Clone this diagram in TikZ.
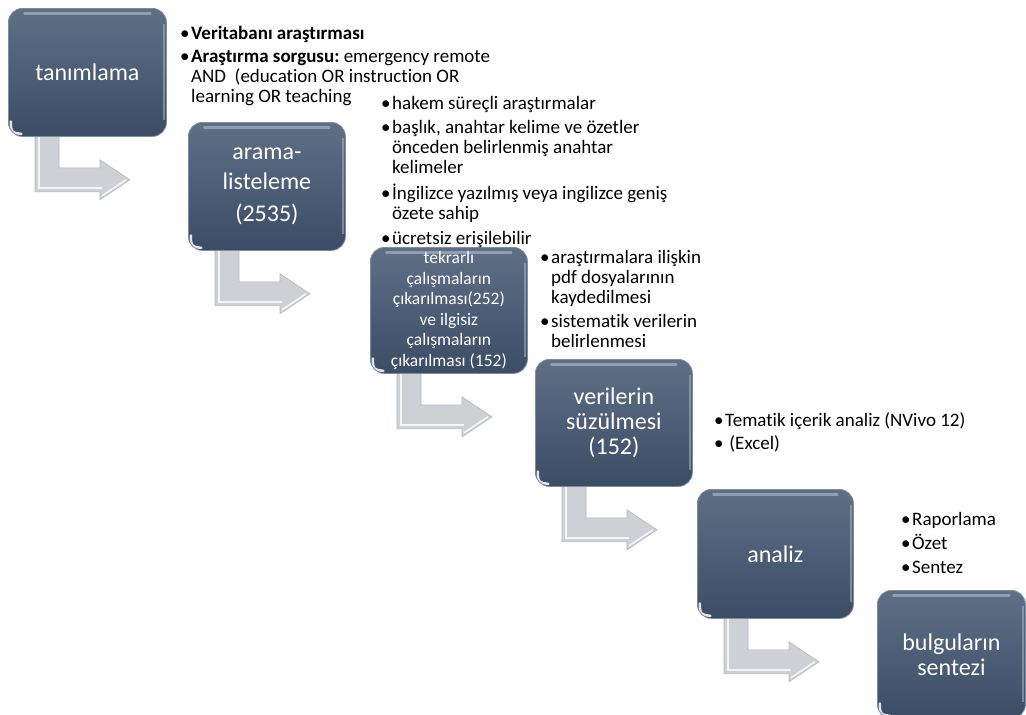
\documentclass[tikz,border=0pt]{standalone}
\usepackage{fontspec}
\setmainfont{Carlito}[Ligatures=NoCommon]
\usetikzlibrary{calc}
\pgfdeclarelayer{bg}
\pgfsetlayers{bg,main}
\definecolor{boxtop}{HTML}{5F6F86}
\definecolor{boxbot}{HTML}{3B4C65}
\definecolor{rim}{HTML}{7E8DA2}
\definecolor{topglow}{HTML}{A3AFBF}
\definecolor{arrowfill}{HTML}{CDD1D6}
\definecolor{arrowedge}{HTML}{B3B8BF}
\newcommand{\bul}{\makebox[11pt][l]{\textbullet}}
\frenchspacing
\tikzset{
  stepbox/.style={anchor=north west, rounded corners=14pt, top color=boxtop, bottom color=boxbot,
    draw=rim, line width=0.8pt, text=white, align=center, inner sep=0pt,
    font=\fontsize{24}{25}\selectfont,
    path picture={
      \draw[topglow, line width=2.5pt, opacity=0.75, line cap=round]
        ($(path picture bounding box.north west)+(16,5)$) -- ($(path picture bounding box.north east)+(-16,5)$);
      \draw[topglow, line width=1.6pt, opacity=0.6]
        ($(path picture bounding box.north east)+(-2.5,16)$) -- ($(path picture bounding box.south east)+(-2.5,-16)$);
      \draw[white, line width=2.5pt, opacity=0.85, line cap=round]
        ($(path picture bounding box.south west)+(2.5,-15)$) .. controls ($(path picture bounding box.south west)+(2.5,-4)$) .. ($(path picture bounding box.south west)+(13,-2.5)$);
    }},
  bentarrow/.style={fill=arrowfill, draw=arrowedge, line width=0.6pt, line join=miter},
  bevel/.style={white, line width=1.6pt, opacity=0.8},
  bulletgroup/.style={anchor=base west, inner sep=0pt, text=black, font=\fontsize{19}{20}\selectfont},
}
\begin{document}
\begin{tikzpicture}[x=1pt,y=-1pt]
\useasboundingbox (0,0) rectangle (1026,715);
\clip (0,0) rectangle (1026,715);

% boxes
\node[stepbox, minimum width=158, minimum height=128] (b1) at (8,8) {tanımlama};
\node[stepbox, minimum width=157, minimum height=128] (b2) at (188,122) {arama-\\[5pt]listeleme\\[7pt](2535)};
\node[stepbox, minimum width=157, minimum height=126, font=\fontsize{17.5}{20.6}\selectfont] (b3) at (370,247)
  {tekrarlı\\çalışmaların\\çıkarılması(252)\\ve ilgisiz\\çalışmaların\\çıkarılması (152)};
\node[stepbox, minimum width=157, minimum height=127] (b4) at (535,359) {verilerin\\süzülmesi\\(152)};
\node[stepbox, minimum width=156, minimum height=129] (b5) at (697,489) {analiz};
\node[stepbox, minimum width=148, minimum height=128] (b6) at (877,590) {bulguların\\sentezi};

% bent arrows
\begin{pgfonlayer}{bg}
\foreach \b in {b1,b2,b3,b4,b5}{
  \draw[bentarrow] ($(\b.south west)+(27,-4)$) -- ++(0,59) -- ++(65,0) -- ++(0,8) -- ++(30,-20)
     -- ++(-30,-20) -- ++(0,8) -- ++(-41,0) -- ($(\b.south west)+(51,-4)$) -- cycle;
  \draw[bevel] ($(\b.south west)+(31,0)$) -- ($(\b.south west)+(31,51)$) -- ($(\b.south west)+(94,51)$);
  \draw[bevel] ($(\b.south west)+(94,59)$) -- ($(\b.south west)+(118,43)$);
}
\end{pgfonlayer}

% bullet texts
\node[bulletgroup] (t1) at (180,39) {\begin{tabular}[t]{@{}l@{}l@{}}
\bul & \textbf{Veritabanı araştırması}\\[3pt]
\bul & \textbf{Araştırma sorgusu:} emergency remote\\
 & AND \ (education OR instruction OR\\
 & learning OR teaching
\end{tabular}};
\node[bulletgroup] (t2) at (381,109) {\begin{tabular}[t]{@{}l@{}l@{}}
\bul & hakem süreçli araştırmalar\\[4.5pt]
\bul & başlık, anahtar kelime ve özetler\\
 & önceden belirlenmiş anahtar\\
 & kelimeler\\[4.5pt]
\bul & İngilizce yazılmış veya ingilizce geniş\\
 & özete sahip\\[4.5pt]
\bul & ücretsiz erişilebilir
\end{tabular}};
\node[bulletgroup] (t3) at (540,263) {\begin{tabular}[t]{@{}l@{}l@{}}
\bul & araştırmalara ilişkin\\
 & pdf dosyalarının\\
 & kaydedilmesi\\[4.5pt]
\bul & sistematik verilerin\\
 & belirlenmesi
\end{tabular}};
\node[bulletgroup] (t4) at (714,426) {\begin{tabular}[t]{@{}l@{}l@{}}
\bul & Tematik içerik analiz (NVivo 12)\\[3pt]
\bul & \ (Excel)
\end{tabular}};
\node[bulletgroup] (t5) at (901,525) {\begin{tabular}[t]{@{}l@{}l@{}}
\bul & Raporlama\\[3.5pt]
\bul & Özet\\[3.5pt]
\bul & Sentez
\end{tabular}};
\end{tikzpicture}
\end{document}
